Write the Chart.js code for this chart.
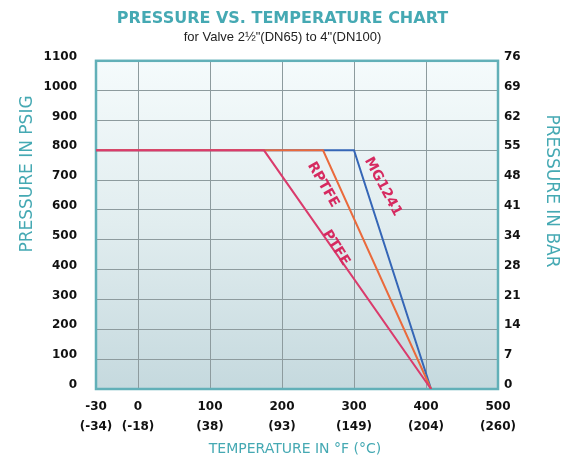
<!DOCTYPE html>
<html>
<head>
<meta charset="utf-8">
<script src="https://cdn.jsdelivr.net/npm/chart.js@4.4.1/dist/chart.umd.min.js"></script>
<style>
  html, body { margin: 0; padding: 0; background: #fff; }
  canvas { display: block; }
</style>
</head>
<body>
<canvas id="pressureChart" width="565" height="465"></canvas>
<script>
// axis ticks
const tempTicksF = [-30, 0, 100, 200, 300, 400, 500];
const tempTicksC = ['(-34)', '(-18)', '(38)', '(93)', '(149)', '(204)', '(260)'];
const psiTicks = [0, 100, 200, 300, 400, 500, 600, 700, 800, 900, 1000, 1100];
const barTicks = ['0', '7', '14', '21', '28', '34', '41', '48', '55', '62', '69', '76'];

// seat ratings, temperature in F and pressure in psig
const ptfeTemp = [-30, 175, 407];
const ptfePsi = [800, 800, 0];
const rptfeTemp = [-30, 257, 407];
const rptfePsi = [800, 800, 0];
const mgTemp = [-30, 300, 407];
const mgPsi = [800, 800, 0];

const teal = '#45a9b3';

// the printed chart gives -30..0 a wider slot than the rest of the axis
const X_BREAK = 0;
const X_BREAK_FRACTION = 0.1045;

class BrokenLinearScale extends Chart.LinearScale {
    getPixelForValue(value) {
        let d;
        if (value <= X_BREAK) {
            d = (value - this.min) / (X_BREAK - this.min) * X_BREAK_FRACTION;
        } else {
            d = X_BREAK_FRACTION + (value - X_BREAK) / (this.max - X_BREAK) * (1 - X_BREAK_FRACTION);
        }
        return this.getPixelForDecimal(d);
    }
    getValueForPixel(pixel) {
        const d = this.getDecimalForPixel(pixel);
        if (d <= X_BREAK_FRACTION) return this.min + d / X_BREAK_FRACTION * (X_BREAK - this.min);
        return X_BREAK + (d - X_BREAK_FRACTION) / (1 - X_BREAK_FRACTION) * (this.max - X_BREAK);
    }
}
BrokenLinearScale.id = 'brokenLinear';
BrokenLinearScale.defaults = Chart.LinearScale.defaults;
Chart.register(BrokenLinearScale);

function toPoints(xs, ys) {
    return xs.map((x, i) => ({ x: x, y: ys[i] }));
}

const plotBackground = {
    id: 'plotBackground',
    beforeDraw(chart) {
        const { ctx, chartArea: a } = chart;
        const g = ctx.createLinearGradient(0, a.top, 0, a.bottom);
        g.addColorStop(0, '#f5fbfc');
        g.addColorStop(0.5, '#e1edef');
        g.addColorStop(1, '#c5d9de');
        ctx.save();
        ctx.fillStyle = g;
        ctx.fillRect(a.left, a.top, a.right - a.left, a.bottom - a.top);
        ctx.restore();
    },
    beforeDatasetsDraw(chart) {
        const { ctx, chartArea: a } = chart;
        ctx.save();
        ctx.strokeStyle = '#62b0b8';
        ctx.lineWidth = 2.5;
        ctx.strokeRect(a.left, a.top, a.right - a.left, a.bottom - a.top);
        ctx.restore();
    }
};

// names written along the lines, anchored in data units
const lineNames = [
    { text: 'MG1241', temp: 340, psi: 678, angle: 62 },
    { text: 'RPTFE', temp: 257, psi: 685, angle: 60 },
    { text: 'PTFE', temp: 275, psi: 473, angle: 58 }
];

const lineLabels = {
    id: 'lineLabels',
    afterDatasetsDraw(chart) {
        const { ctx } = chart;
        const xs = chart.scales.x, ys = chart.scales.y;
        ctx.save();
        ctx.fillStyle = '#d62a60';
        ctx.font = 'bold 14px "DejaVu Sans"';
        ctx.textAlign = 'center';
        ctx.textBaseline = 'middle';
        lineNames.forEach(n => {
            ctx.save();
            ctx.translate(xs.getPixelForValue(n.temp), ys.getPixelForValue(n.psi));
            ctx.rotate(n.angle * Math.PI / 180);
            ctx.fillText(n.text, 0, 0);
            ctx.restore();
        });
        ctx.restore();
    }
};

const axisTitles = {
    id: 'axisTitles',
    afterDraw(chart) {
        const { ctx } = chart;
        ctx.save();
        ctx.fillStyle = teal;
        ctx.textAlign = 'center';
        ctx.textBaseline = 'middle';
        ctx.font = '17px "DejaVu Sans"';

        ctx.save();
        ctx.translate(28, 174);
        ctx.rotate(-Math.PI / 2);
        ctx.fillText('PRESSURE IN PSIG', 0, 0);
        ctx.restore();

        ctx.save();
        ctx.translate(551, 191);
        ctx.rotate(Math.PI / 2);
        ctx.fillText('PRESSURE IN BAR', 0, 0);
        ctx.restore();

        ctx.font = '14px "DejaVu Sans"';
        ctx.fillText('TEMPERATURE IN °F (°C)', 295, 449);
        ctx.restore();
    }
};

new Chart(document.getElementById('pressureChart'), {
    type: 'line',
    data: {
        datasets: [
            {
                label: 'PTFE',
                data: toPoints(ptfeTemp, ptfePsi),
                borderColor: '#da3b6c',
                borderWidth: 2,
                pointRadius: 0,
                tension: 0
            },
            {
                label: 'RPTFE',
                data: toPoints(rptfeTemp, rptfePsi),
                borderColor: '#ea6a3c',
                borderWidth: 2,
                pointRadius: 0,
                tension: 0
            },
            {
                label: 'MG1241',
                data: toPoints(mgTemp, mgPsi),
                borderColor: '#3566b6',
                borderWidth: 2,
                pointRadius: 0,
                tension: 0
            }
        ]
    },
    options: {
        responsive: false,
        animation: false,
        layout: { padding: 0 },
        plugins: {
            legend: { display: false },
            tooltip: { enabled: false },
            title: {
                display: true,
                text: 'PRESSURE VS. TEMPERATURE CHART',
                color: teal,
                font: { family: '"DejaVu Sans"', size: 16, weight: 'bold', lineHeight: 1.2 },
                padding: { top: 9, bottom: 0 }
            },
            subtitle: {
                display: true,
                text: 'for Valve 2½"(DN65) to 4"(DN100)',
                color: '#222',
                font: { family: '"Liberation Sans"', size: 13, lineHeight: 1.2 },
                padding: { top: 1, bottom: 16 }
            }
        },
        scales: {
            x: {
                type: 'brokenLinear',
                min: -30,
                max: 500,
                afterBuildTicks: s => { s.ticks = tempTicksF.map(v => ({ value: v })); },
                afterFit: s => { s.height = 76; },
                grid: { color: '#8d9b9e', lineWidth: 1, drawTicks: false },
                border: { display: false },
                ticks: {
                    autoSkip: false,
                    maxRotation: 0,
                    padding: 8,
                    color: '#111',
                    font: { family: '"DejaVu Sans"', size: 12, weight: 'bold', lineHeight: 1.65 },
                    callback: (v, i) => [String(tempTicksF[i]), tempTicksC[i]]
                }
            },
            y: {
                position: 'left',
                min: 0,
                max: 1100,
                afterBuildTicks: s => { s.ticks = psiTicks.map(v => ({ value: v })); },
                afterFit: s => { s.width = 96; },
                grid: { color: '#8d9b9e', lineWidth: 1, drawTicks: false },
                border: { display: false },
                ticks: {
                    autoSkip: false,
                    padding: 19,
                    labelOffset: -4,
                    color: '#111',
                    font: { family: '"DejaVu Sans"', size: 12, weight: 'bold' },
                    callback: (v, i) => String(psiTicks[i])
                }
            },
            y2: {
                position: 'right',
                min: 0,
                max: 1100,
                afterBuildTicks: s => { s.ticks = psiTicks.map(v => ({ value: v })); },
                afterFit: s => { s.width = 67; },
                grid: { drawOnChartArea: false, drawTicks: false },
                border: { display: false },
                ticks: {
                    autoSkip: false,
                    padding: 6,
                    labelOffset: -4,
                    color: '#111',
                    font: { family: '"DejaVu Sans"', size: 12, weight: 'bold' },
                    callback: (v, i) => barTicks[i]
                }
            }
        }
    },
    plugins: [plotBackground, lineLabels, axisTitles]
});
</script>
</body>
</html>
